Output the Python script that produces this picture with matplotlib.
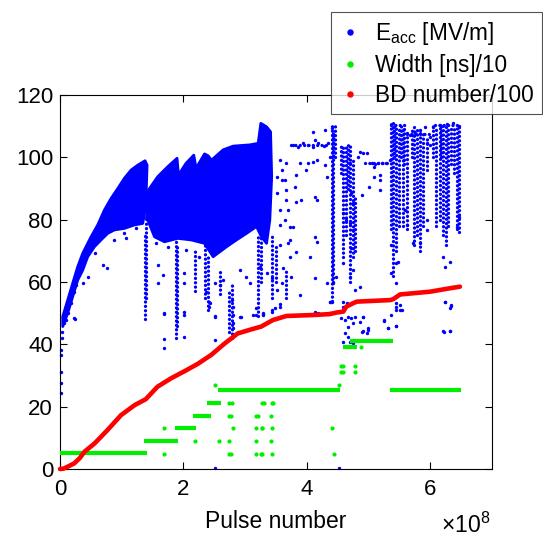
import matplotlib
matplotlib.use("Agg")
import matplotlib.pyplot as plt
from matplotlib.lines import Line2D
import numpy as np

plt.rcParams['font.family'] = ['Liberation Sans', 'DejaVu Sans']
plt.rcParams['mathtext.fontset'] = 'custom'
plt.rcParams['mathtext.rm'] = 'Liberation Sans'
plt.rcParams['mathtext.it'] = 'Liberation Sans'

BLUE = '#0000ff'
GREEN = '#00ee00'
RED = '#ff0000'
SCALE = 1e8  # pulse numbers below are in units of 1e8

# ==================== Data (pulse number / 1e8) ====================
# dense E_acc regions (outline of the solid blue mass)
dense_ramp_x = [0.044, 0.125, 0.206, 0.287, 0.368, 0.503, 0.611, 0.72, 0.827, 0.936, 1.044, 1.151,
                1.26, 1.378, 1.411, 1.40, 1.378, 1.341, 1.206, 1.044, 0.882, 0.773, 0.665, 0.557,
                0.449, 0.368, 0.287, 0.206, 0.125, 0.044]
dense_ramp_y = [48.9, 54.2, 59.6, 64.9, 69.2, 74.5, 78.3, 83.1, 86.8, 90.0, 93.3, 95.9,
                97.5, 98.9, 97.5, 90.6, 83.1, 78.8, 78.3, 77.2, 76.7, 75.6, 73.5, 71.3,
                68.1, 63.8, 60.6, 55.3, 50.0, 45.7]
dense_teeth_x = [1.40, 1.433, 1.584, 1.746, 1.897, 1.919, 2.043, 2.168, 2.205, 2.342, 2.40, 2.455,
                 2.643, 2.805, 3.076, 3.211, 3.254, 3.347, 3.412, 3.43, 3.40, 3.347, 3.265, 3.184,
                 3.022, 2.86, 2.698, 2.481, 2.342, 2.124, 1.908, 1.693, 1.531, 1.422]
dense_teeth_y = [80.0, 89.5, 93.8, 97.0, 99.7, 94.3, 98.1, 100.7, 96.5, 101.1, 100.5, 99.1,
                 102.4, 103.6, 104.0, 104.5, 110.9, 109.8, 108.2, 93.8, 79.9, 72.4, 74.5, 77.8,
                 75.6, 73.5, 71.3, 68.1, 72.4, 73.5, 74.0, 72.9, 74.5, 79.9]

# vertical streaks of E_acc points: position, lowest, highest value
streak_x = [1.38, 1.40, 1.88, 1.90, 2.18, 2.35, 2.40, 2.59, 2.74, 2.79, 3.21, 3.25, 3.43, 3.50,
            3.67, 4.40, 4.43, 4.59, 4.64, 4.70, 4.75, 4.78, 5.37, 5.40, 5.45, 5.50, 5.55, 5.62,
            5.73, 5.78, 5.84, 5.89, 6.10, 6.15, 6.21, 6.26, 6.29, 6.43, 6.47,
            5.42, 5.52, 5.58, 6.05, 6.18, 6.33, 6.38, 5.70, 5.95, 4.56, 4.67, 4.46]
streak_lo = [48, 55, 42, 46, 57, 55, 51, 56, 44, 42, 49, 60, 55, 60,
             55, 54, 60, 68, 75, 60, 68, 70, 77, 62, 70, 78, 78, 77,
             72, 75, 70, 78, 78, 80, 75, 72, 78, 77, 76,
             100, 100, 98, 100, 100, 98, 95, 100, 96, 95, 90, 100]
streak_hi = [76, 80, 75, 72, 70, 72, 68, 64, 57, 60, 75, 75, 75, 72,
             64, 110, 108, 104, 104, 104, 100, 88, 111, 111, 110, 110, 109, 108,
             110, 109, 109, 108, 110, 110, 111, 110, 110, 110, 110,
             111, 110, 109, 110, 111, 110, 110, 109, 106, 104, 104, 110]

# horizontal rows of E_acc points: level, start, end
row_y = [98.2, 104.0, 107.5, 110.5, 110.5]
row_start = [4.95, 3.75, 5.62, 6.07, 5.36]
row_end = [5.35, 4.38, 6.00, 6.48, 5.60]

# isolated E_acc points
eacc_x = [0.02, 0.02, 0.02, 0.02, 0.02, 0.04, 0.04, 0.10, 0.13, 0.15, 0.24,
          1.68, 1.68, 1.68, 2.01, 2.01, 2.41, 2.41, 2.51, 2.51, 2.92, 3.17, 3.17, 3.29, 2.51, 4.52,
          0.69, 0.76, 0.26, 0.45, 0.37, 0.23, 0.23, 0.18, 0.07, 0.56, 1.04, 1.07, 1.23, 0.88,
          1.58, 1.67, 1.58, 1.68, 2.01, 2.01, 2.01, 1.56, 1.75, 2.04, 2.26,
          3.56, 3.67, 3.64, 3.59, 3.56, 3.70, 3.64, 3.56, 3.72, 3.70, 3.56, 3.72, 3.62, 3.75,
          3.83, 3.83, 4.13, 4.16, 4.13, 4.05, 4.13, 4.32, 4.37, 3.89, 4.18, 4.10, 4.16, 4.02,
          3.56, 3.43, 3.29, 3.13, 2.94, 2.51, 2.43, 2.59, 2.81, 2.81, 2.81, 2.78, 2.81,
          3.78, 3.86, 3.94, 4.02, 4.10, 4.18, 4.27, 4.35, 4.10, 4.13, 4.29, 4.40, 4.43,
          2.91, 3.02, 3.08, 3.35, 3.43, 3.51, 3.59, 3.24, 2.51, 2.37, 2.64, 3.89, 3.99, 3.81,
          3.67, 3.91, 3.67, 3.78, 4.16, 3.83, 3.72, 4.32, 4.29, 4.37, 3.51, 3.59, 3.51,
          6.21, 6.24, 6.32, 6.21, 6.32, 6.24, 6.32, 5.37, 5.45, 5.48, 5.37, 5.45, 5.45, 5.51,
          5.45, 5.25, 5.32, 4.91, 4.91, 4.99, 4.86, 4.78, 4.75, 4.70, 4.89, 5.00, 5.18, 5.08,
          5.18, 4.48, 4.43, 4.40, 4.72, 4.59, 5.59, 5.62, 5.94, 5.94, 5.83, 5.72, 6.43, 6.46,
          4.86, 4.91, 4.97, 4.83, 4.70, 4.72, 4.75, 4.59, 4.64, 4.70, 4.75,
          5.05, 5.10, 5.16, 5.21, 5.29, 5.35, 5.08, 5.18,
          5.67, 5.75, 5.83, 5.91, 5.99, 6.05, 6.16, 6.27, 6.37, 6.46, 5.94, 5.99,
          3.29, 3.43, 3.48, 3.56, 4.13, 4.37, 4.37, 4.59, 4.59, 4.65, 4.56, 4.62, 4.67, 4.72,
          4.78, 4.75, 4.67, 4.62, 4.67, 4.70, 4.59, 4.75, 4.86, 4.91, 4.89, 4.99, 4.97, 5.25,
          5.32, 5.37, 5.44, 5.45, 5.45, 5.51, 5.54, 6.24, 6.34, 6.23, 6.32, 6.34]
eacc_y = [38.2, 36.6, 31.2, 27.5, 24.3, 41.9, 44.1, 47.8, 49.9, 53.2, 48.1,
          49.6, 41.6, 38.7, 49.4, 42.2, 53.7, 51.9, 49.2, 41.4, 48.9, 51.5, 49.4, 49.4, 0.3, 0.3,
          65.5, 64.4, 59.0, 61.7, 59.6, 56.9, 48.3, 53.2, 46.7, 69.2, 75.6, 74.0, 77.2, 73.5,
          65.5, 62.2, 59.6, 50.0, 62.8, 59.6, 50.5, 72.4, 71.3, 70.3, 68.1,
          99.2, 98.1, 92.7, 92.7, 83.1, 83.1, 79.9, 78.3, 77.8, 72.4, 71.9, 68.1, 64.4, 61.7,
          94.3, 85.8, 87.4, 86.3, 74.5, 68.1, 61.2, 59.6, 53.7, 55.8, 49.9, 98.6, 99.2, 98.1,
          52.1, 51.0, 49.9, 49.4, 48.9, 48.9, 53.2, 59.1, 46.7, 49.4, 52.1, 54.2, 45.1,
          104.0, 103.4, 104.5, 104.0, 103.4, 104.5, 103.6, 104.5, 108.2, 105.6, 108.8, 109.3, 107.2,
          63.9, 61.7, 59.6, 62.8, 61.2, 57.4, 59.6, 64.9, 59.6, 56.9, 60.6, 98.1, 95.9, 90.6,
          89.5, 86.3, 86.3, 77.8, 72.9, 69.7, 73.5, 93.8, 97.5, 100.2, 93.8, 95.9, 88.5,
          68.1, 64.9, 66.5, 44.4, 44.4, 53.7, 51.6, 71.9, 66.0, 66.5, 62.8, 59.6, 52.1, 51.0,
          45.9, 47.6, 45.2, 48.9, 44.4, 45.2, 58.5, 57.4, 63.9, 61.7, 87.9, 90.6, 89.5, 93.8,
          94.3, 61.7, 59.6, 53.7, 70.8, 66.0, 83.1, 78.3, 79.9, 76.7, 72.4, 72.4, 77.8, 81.0,
          101.8, 101.3, 101.5, 100.2, 98.1, 88.5, 85.3, 82.0, 79.9, 78.8, 76.7,
          98.1, 97.9, 98.3, 98.1, 98.3, 99.2, 97.0, 92.7,
          107.2, 107.7, 108.8, 109.8, 106.6, 109.8, 110.4, 110.7, 110.9, 110.1, 104.5, 104.0,
          49.7, 50.5, 51.5, 52.9, 50.5, 53.7, 50.2, 53.7, 52.1, 53.2, 48.3, 47.8, 48.9, 48.3,
          48.9, 46.7, 45.7, 43.5, 42.5, 40.9, 40.9, 40.3, 47.3, 48.9, 44.1, 44.6, 43.5, 47.8,
          45.1, 49.4, 45.9, 53.2, 51.0, 52.6, 51.0, 53.7, 52.4, 44.1, 44.4, 52.6]

# pulse width / 10: plateaus (level, start, end) and isolated points
width_level = [5.0, 9.0, 13.3, 17.1, 21.3, 25.2, 25.2, 41.2, 39.2]
width_start = [0.0, 1.36, 1.865, 2.15, 2.38, 2.56, 5.35, 4.70, 4.59]
width_end = [1.41, 1.92, 2.205, 2.44, 2.61, 4.535, 6.50, 5.39, 4.81]
width_pts_x = [1.68, 1.68, 2.18, 2.58, 2.74, 2.77, 2.74, 2.77, 2.74, 2.74, 2.78, 2.80, 2.51,
               3.18, 3.21, 3.18, 3.27, 3.18, 3.18, 3.26, 3.27, 3.30, 3.45, 3.43, 3.42, 3.28,
               3.43, 3.42, 3.27, 3.43, 4.40, 4.44, 4.52, 4.56, 4.58, 4.78, 4.55, 4.58, 4.78, 4.88]
width_pts_y = [13.3, 4.9, 9.0, 9.0, 9.0, 4.9, 4.9, 17.1, 17.1, 21.3, 21.3, 13.3, 27.0,
               17.1, 17.1, 13.3, 13.3, 9.0, 4.9, 4.9, 21.3, 21.3, 21.3, 21.3, 17.1, 13.3,
               13.3, 9.0, 4.9, 4.9, 13.3, 4.9, 27.0, 33.1, 33.1, 33.1, 31.2, 31.2, 31.2, 39.2]

# cumulative breakdown number / 100
bd_x = [0.0, 0.05, 0.08, 0.15, 0.23, 0.32, 0.40, 0.56, 0.77, 0.99, 1.21, 1.39, 1.58, 1.80,
        2.02, 2.23, 2.45, 2.67, 2.88, 3.10, 3.26, 3.45, 3.67, 4.10, 4.37, 4.48, 4.59, 4.64,
        4.75, 4.81, 5.35, 5.40, 5.51, 6.00, 6.32, 6.48]
bd_y = [0.0, 0.1, 0.3, 1.0, 1.8, 3.5, 5.6, 8.2, 12.5, 17.3, 20.5, 22.4, 26.4, 29.1,
        31.4, 33.7, 36.6, 40.3, 43.5, 44.8, 45.7, 47.8, 49.1, 49.4, 49.7, 50.2, 50.5, 52.1,
        53.2, 53.7, 54.2, 54.5, 56.0, 56.9, 58.0, 58.5]

x_ticks = [0, 2, 4, 6]
y_ticks = [0, 20, 40, 60, 80, 100, 120]

# ==================== Plot ====================
fig = plt.figure(figsize=(5.43, 5.38), dpi=100)
ax = fig.add_axes([60 / 543, 1 - 469 / 538, 432 / 543, 374 / 538])

s = lambda v: np.asarray(v) * SCALE
DOTS = (0, (0.01, 1.3))

# E_acc: solid masses, streaks, rows and single points
ax.fill(s(dense_ramp_x), dense_ramp_y, facecolor=BLUE, edgecolor=BLUE, lw=2.0,
        joinstyle='round', zorder=2)
ax.fill(s(dense_teeth_x), dense_teeth_y, facecolor=BLUE, edgecolor=BLUE, lw=2.0,
        joinstyle='round', zorder=2)
ax.vlines(s(streak_x), streak_lo, streak_hi, colors=BLUE, linewidth=2.4,
          linestyles=[DOTS], capstyle='round', zorder=2)
ax.hlines(row_y, s(row_start), s(row_end), colors=BLUE, linewidth=2.4,
          linestyles=[DOTS], capstyle='round', zorder=2)
ax.scatter(s(eacc_x), eacc_y, s=6, color=BLUE, linewidths=0, zorder=2, clip_on=False)

# Width
ax.hlines(width_level, s(width_start), s(width_end), colors=GREEN, linewidth=3.0, zorder=3)
ax.scatter(s(width_pts_x), width_pts_y, s=9, color=GREEN, linewidths=0, zorder=3)

# BD number
ax.plot(s(bd_x), bd_y, color=RED, lw=3.3, solid_capstyle='round', zorder=4, clip_on=False)

ax.set_xlim(0, 7 * SCALE)
ax.set_ylim(0, 120)
ax.set_xticks(s(x_ticks))
ax.set_xticklabels([str(t) for t in x_ticks])
ax.set_yticks(y_ticks)
ax.tick_params(direction='in', top=True, right=True, length=5, width=0.8, labelsize=16)
ax.tick_params(axis='x', pad=7)
ax.tick_params(axis='y', pad=5)
for sp in ax.spines.values():
    sp.set_linewidth(0.8)

ax.set_xlabel('Pulse number', fontsize=16.5)
ax.xaxis.set_label_coords(0.5, -0.11)
fig.text(490 / 543, 5 / 538, r'$\times10^{8}$', ha='right', va='baseline', fontsize=16.5)

handles = [Line2D([], [], ls='none', marker='o', ms=3.6, color=c) for c in (BLUE, GREEN, RED)]
labels = [r'E$_{\mathrm{acc}}$ [MV/m]', 'Width [ns]/10', 'BD number/100']
leg = fig.legend(handles, labels, loc='upper right', bbox_to_anchor=(542 / 543, 1 - 12 / 538),
                 frameon=True, fancybox=False, edgecolor='#262626', fontsize=16.3,
                 handlelength=1.0, handletextpad=0.6, labelspacing=0.3, borderpad=0.35,
                 borderaxespad=0)
leg.get_frame().set_linewidth(0.8)

fig.savefig('out.png', dpi=100)
